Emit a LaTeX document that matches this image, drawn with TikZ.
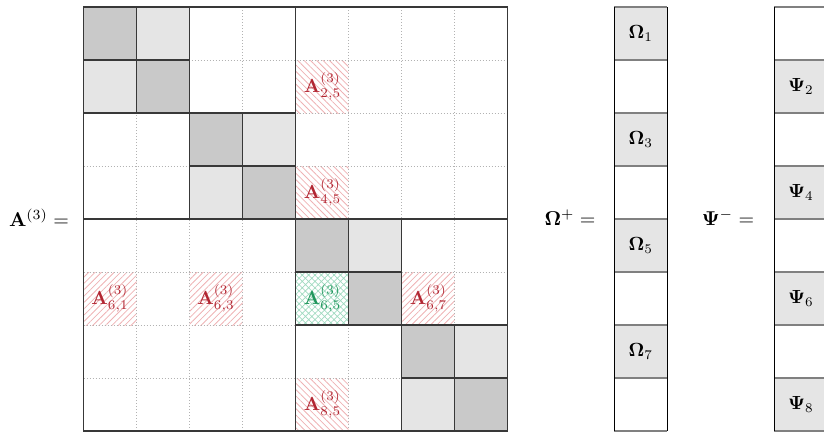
\documentclass[tikz,border=0pt]{standalone}
\usetikzlibrary{patterns.meta}
\definecolor{darkcell}{gray}{0.79}
\definecolor{lightcell}{gray}{0.9}
\definecolor{gridline}{gray}{0.22}
\definecolor{dotline}{gray}{0.7}
\definecolor{vecline}{gray}{0.5}
\definecolor{hred}{RGB}{178,38,50}
\definecolor{hpink}{RGB}{238,178,180}
\definecolor{hgreen}{RGB}{32,150,92}
\definecolor{hmint}{RGB}{160,218,192}
\begin{document}
\begin{tikzpicture}[x=1pt,y=-1pt,
  solidline/.style={draw=gridline,line width=1.1pt},
  dotgrid/.style={draw=dotline,line width=0.7pt,dash pattern=on 0.8pt off 2.2pt},
  hatchne/.style={pattern={Lines[angle=45,distance=4.5pt,line width=0.8pt]},pattern color=hpink},
  hatchnw/.style={pattern={Lines[angle=-45,distance=4.5pt,line width=0.8pt]},pattern color=hpink},
  hatchx/.style={pattern={Hatch[angle=45,distance=4.5pt,line width=0.7pt]},pattern color=hmint},
  lab/.style={font=\normalsize,inner sep=0pt,scale=1.9},
  eqlab/.style={font=\normalsize,inner sep=0pt,scale=2.0},
  redlab/.style={lab,text=hred},
  greenlab/.style={lab,text=hgreen},
  vecv/.style={draw=black,line width=1pt},
  vech/.style={draw=vecline,line width=1.3pt}]
\clip (0,0) rectangle (824,431);
% ---------- fills ----------
\foreach \i/\j in {1/1,2/2,3/3,4/4,5/5,6/6,7/7,8/8}
  \fill[darkcell] (30.5+53*\j,-46+53*\i) rectangle ++(53,53);
\foreach \i/\j in {1/2,2/1,3/4,4/3,5/6,7/8,8/7}
  \fill[lightcell] (30.5+53*\j,-46+53*\i) rectangle ++(53,53);
% ---------- hatched cells ----------
\foreach \i/\j in {2/5,4/5,8/5}
  \fill[hatchnw] (30.5+53*\j,-46+53*\i) rectangle ++(53,53);
\foreach \i/\j in {6/1,6/3,6/7}
  \fill[hatchne] (30.5+53*\j,-46+53*\i) rectangle ++(53,53);
\fill[hatchx] (30.5+53*5,-46+53*6) rectangle ++(53,53);
% ---------- dotted inner grid ----------
\foreach \k in {1,...,7} {
  \draw[dotgrid] (83.5+53*\k,7) -- (83.5+53*\k,431);
  \draw[dotgrid] (83.5,7+53*\k) -- (507.5,7+53*\k);
}
% ---------- solid block lines ----------
\foreach \a/\b/\c in {4/0/8,2/0/4,1/0/2,3/2/4,6/4/8,5/4/6,7/6/8} {
  \draw[solidline] (83.5+53*\a,7+53*\b) -- (83.5+53*\a,7+53*\c);
  \draw[solidline] (83.5+53*\b,7+53*\a) -- (83.5+53*\c,7+53*\a);
}
\draw[solidline] (83.5,7) rectangle (507.5,431);
% ---------- cell labels ----------
\node[redlab]   (a25) at (322.5,86.5)  {$\mathbf{A}^{(3)}_{2,5}$};
\node[redlab]   (a45) at (322.5,192.5) {$\mathbf{A}^{(3)}_{4,5}$};
\node[redlab]   (a61) at (110,298.5)   {$\mathbf{A}^{(3)}_{6,1}$};
\node[redlab]   (a63) at (216,298.5)   {$\mathbf{A}^{(3)}_{6,3}$};
\node[greenlab] (a65) at (322.5,298.5) {$\mathbf{A}^{(3)}_{6,5}$};
\node[redlab]   (a67) at (428.5,298.5) {$\mathbf{A}^{(3)}_{6,7}$};
\node[redlab]   (a85) at (322.5,404.5) {$\mathbf{A}^{(3)}_{8,5}$};
% ---------- vector Omega ----------
\foreach \i in {1,3,5,7}
  \fill[lightcell] (614.3,-46+53*\i) rectangle ++(53,53);
\foreach \k in {0,...,8}
  \draw[vech] (614.3,7+53*\k) -- (667.3,7+53*\k);
\draw[vecv] (614.3,7) -- (614.3,431);
\draw[vecv] (667.3,7) -- (667.3,431);
\node[lab] (o1) at (640.8,33.5)  {$\mathbf{\Omega}_1$};
\node[lab] (o3) at (640.8,139.5) {$\mathbf{\Omega}_3$};
\node[lab] (o5) at (640.8,245.5) {$\mathbf{\Omega}_5$};
\node[lab] (o7) at (640.8,351.5) {$\mathbf{\Omega}_7$};
% ---------- vector Psi ----------
\foreach \i in {2,4,6,8}
  \fill[lightcell] (774.3,-46+53*\i) rectangle ++(53,53);
\foreach \k in {0,...,8}
  \draw[vech] (774.3,7+53*\k) -- (827.3,7+53*\k);
\draw[vecv] (774.3,7) -- (774.3,431);
\draw[vecv] (827.3,7) -- (827.3,431);
\node[lab] (p2) at (800.8,86.5)  {$\mathbf{\Psi}_2$};
\node[lab] (p4) at (800.8,192.5) {$\mathbf{\Psi}_4$};
\node[lab] (p6) at (800.8,298.5) {$\mathbf{\Psi}_6$};
\node[lab] (p8) at (800.8,404.5) {$\mathbf{\Psi}_8$};
% ---------- equation labels ----------
\node[eqlab] (Aeq) at (39,218)  {$\mathbf{A}^{(3)} =$};
\node[eqlab] (Oeq) at (570,218) {$\mathbf{\Omega}^{+} =$};
\node[eqlab] (Peq) at (728,218) {$\mathbf{\Psi}^{-} =$};
\end{tikzpicture}
\end{document}
